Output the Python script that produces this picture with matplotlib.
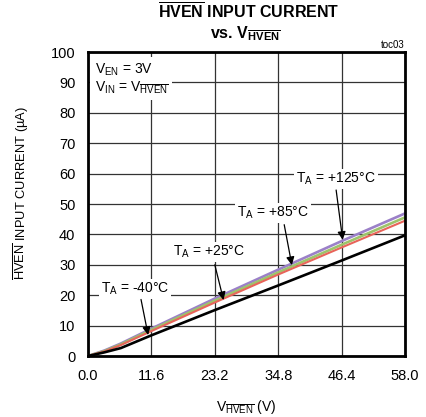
import matplotlib
matplotlib.use("Agg")
import matplotlib.pyplot as plt
from matplotlib import font_manager

names = {f.name for f in font_manager.fontManager.ttflist}
FONT = 'Liberation Sans Narrow' if 'Liberation Sans Narrow' in names else 'Liberation Sans'
plt.rcParams['font.family'] = [FONT, 'DejaVu Sans']
plt.rcParams['mathtext.fontset'] = 'custom'
plt.rcParams['mathtext.rm'] = FONT
plt.rcParams['mathtext.it'] = FONT
plt.rcParams['mathtext.bf'] = FONT + ':bold'

# data
v_hven = [0, 3, 6, 11.6, 23.2, 34.8, 46.4, 58.0]
i_m40 = [0, 1.2, 2.6, 6.8, 15.1, 23.2, 31.4, 39.7]
i_p25 = [0, 1.5, 3.6, 8.2, 17.6, 26.8, 35.7, 44.5]
i_p85 = [0, 1.6, 3.8, 8.6, 18.2, 27.5, 36.6, 45.6]
i_p125 = [0, 1.8, 4.1, 9.0, 18.9, 28.4, 37.8, 46.9]
x_ticks = [0.0, 11.6, 23.2, 34.8, 46.4, 58.0]
y_ticks = [0, 10, 20, 30, 40, 50, 60, 70, 80, 90, 100]

fig = plt.figure(figsize=(4.27, 4.17), dpi=100)
ax = fig.add_axes([88/427, 61/417, 317/427, 304/417])

ax.plot(v_hven, i_m40, color='black', lw=1.9, zorder=5)
ax.plot(v_hven, i_p25, color='#e8645a', lw=1.5, zorder=4)
ax.plot(v_hven, i_p85, color='#9dc36b', lw=1.9, zorder=3)
ax.plot(v_hven, i_p125, color='#9b80c8', lw=1.9, zorder=2)

ax.set_xlim(0, 58)
ax.set_ylim(0, 100)
ax.set_xticks(x_ticks)
ax.set_xticklabels([f'{t:.1f}' for t in x_ticks])
ax.set_yticks(y_ticks)
ax.grid(True, color='#333333', lw=0.9, zorder=0)
ax.tick_params(length=0, labelsize=10.5)
ax.tick_params(axis='x', pad=9)
ax.tick_params(axis='y', pad=9)
for s in ax.spines.values():
    s.set_linewidth(2.0)
    s.set_zorder(10)

ax.set_xlabel(r'V$_{\mathrm{\overline{HVEN}}}$ (V)', fontsize=10, labelpad=11)
ax.set_ylabel(r'$\mathrm{\overline{HVEN}}$ INPUT CURRENT (µA)', fontsize=9.3)
ax.yaxis.set_label_coords(-0.18, 0.535)

fig.text(0.583, 0.972, r'$\mathbf{\overline{HVEN}}$ INPUT CURRENT', ha='center', va='center',
         fontsize=11.5, fontweight='bold')
fig.text(0.574, 0.918, r'vs. V$_{\mathbf{\overline{HVEN}}}$', ha='center', va='center',
         fontsize=11.5, fontweight='bold')
fig.text(405/427, 0.893, 'toc03', ha='right', va='center', fontsize=7)

box = dict(facecolor='white', edgecolor='none', pad=1.5)
ax.text(1.2, 97, r'V$_{\mathrm{EN}}$ = 3V' + '\n' + r'V$_{\mathrm{IN}}$ = V$_{\mathrm{\overline{HVEN}}}$',
        ha='left', va='top', fontsize=10, linespacing=1.1,
        bbox=dict(facecolor='white', edgecolor='none', pad=3), zorder=6)

labels = [
    (r'T$_{\mathrm{A}}$ = -40°C', (8.6, 22.0), (9.7, 18.6), (11.0, 6.9)),
    (r'T$_{\mathrm{A}}$ = +25°C', (22.1, 34.2), (23.2, 30.0), (24.8, 18.4)),
    (r'T$_{\mathrm{A}}$ = +85°C', (33.9, 47.0), (35.9, 43.2), (37.3, 29.9)),
    (r'T$_{\mathrm{A}}$ = +125°C', (45.4, 58.2), (45.4, 54.6), (46.6, 38.2)),
]
for txt, pos, tail, head in labels:
    ax.text(pos[0], pos[1], txt, ha='center', va='center', fontsize=10,
            bbox=box, zorder=6)
    ax.annotate('', xy=head, xytext=tail,
                arrowprops=dict(arrowstyle='-|>', color='black', lw=0.9,
                                mutation_scale=12, shrinkA=0, shrinkB=0),
                zorder=7)

fig.savefig('out.png', dpi=100)
